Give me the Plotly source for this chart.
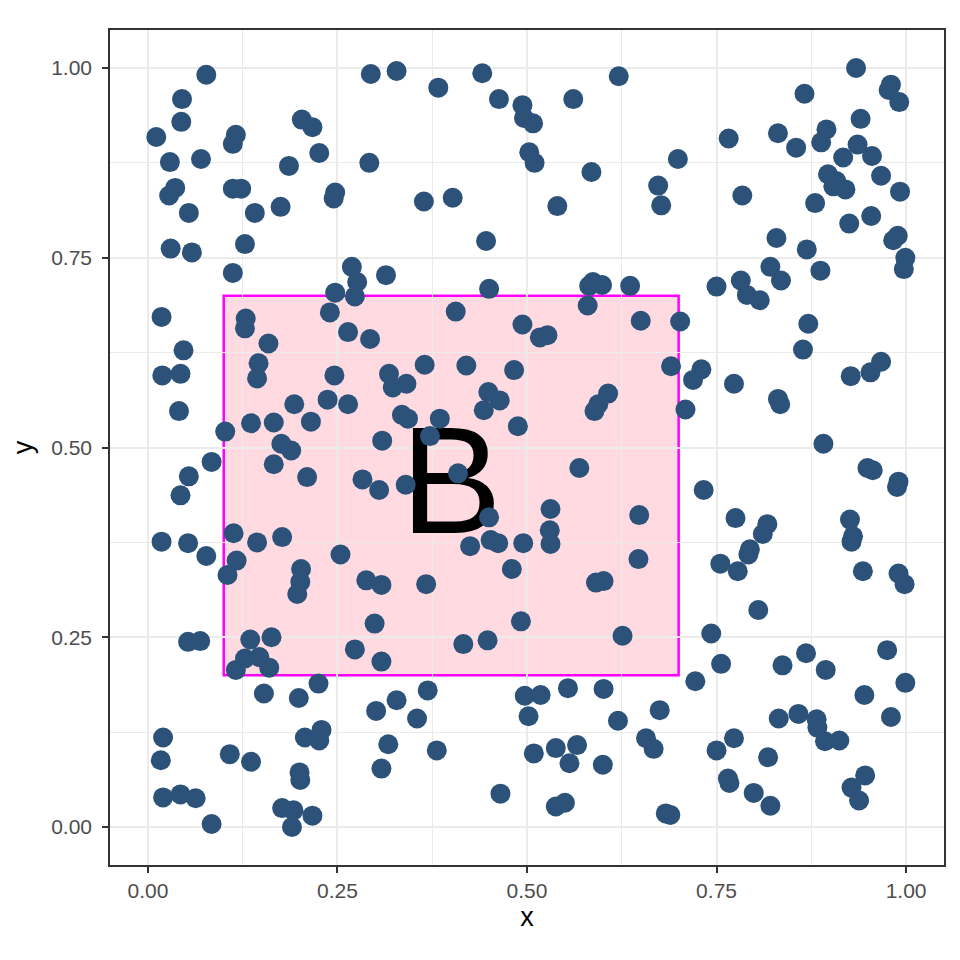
import plotly.graph_objects as go

# ---- data ----
x_vals = [
    # top-left region
    0.077, 0.294, 0.045, 0.044, 0.011, 0.116, 0.112, 0.203, 0.217, 0.226,
    0.029, 0.070, 0.186, 0.292, 0.036, 0.028, 0.112, 0.123, 0.247, 0.245,
    0.054, 0.141, 0.175, 0.128, 0.030, 0.058, 0.112, 0.269, 0.276, 0.314,
    0.247, 0.273,
    # top-middle region
    0.328, 0.383, 0.441, 0.463, 0.494, 0.496, 0.508, 0.561, 0.621, 0.503,
    0.510, 0.585, 0.673, 0.677, 0.364, 0.402, 0.540, 0.446, 0.450, 0.582,
    0.587, 0.599, 0.636, 0.580, 0.406,
    # top-right region
    0.934, 0.980, 0.977, 0.991, 0.866, 0.940, 0.895, 0.888, 0.831, 0.855,
    0.766, 0.699, 0.936, 0.917, 0.955, 0.897, 0.908, 0.904, 0.920, 0.967,
    0.992, 0.784, 0.880, 0.954, 0.925, 0.989, 0.983, 0.999, 0.997, 0.829,
    0.869, 0.887, 0.821, 0.835, 0.782, 0.790, 0.807, 0.750,
    # mid-left region
    0.018, 0.129, 0.128, 0.159, 0.240, 0.264, 0.293, 0.047, 0.019, 0.043,
    0.146, 0.144, 0.246, 0.318, 0.323, 0.041, 0.193, 0.237, 0.264, 0.102,
    0.136, 0.166, 0.215, 0.176, 0.189, 0.309, 0.084, 0.166, 0.210, 0.054,
    0.043, 0.283, 0.305, 0.018, 0.053, 0.077, 0.113, 0.144, 0.177, 0.117,
    0.105, 0.254, 0.202, 0.201, 0.288, 0.308,
    # mid-middle region
    0.494, 0.517, 0.527, 0.650, 0.690, 0.341, 0.365, 0.420, 0.483, 0.449,
    0.464, 0.443, 0.335, 0.343, 0.385, 0.488, 0.607, 0.594, 0.589, 0.372,
    0.409, 0.340, 0.569, 0.531, 0.530, 0.531, 0.450, 0.648, 0.425, 0.452,
    0.462, 0.495, 0.480, 0.647, 0.367, 0.591, 0.601,
    # mid-right region
    0.871, 0.864, 0.702, 0.730, 0.719, 0.773, 0.709, 0.831, 0.834, 0.927,
    0.953, 0.967, 0.891, 0.949, 0.956, 0.990, 0.988, 0.733, 0.775, 0.817,
    0.811, 0.794, 0.792, 0.755, 0.778, 0.926, 0.930, 0.928, 0.943, 0.990,
    0.998,
    # bottom-left region
    0.197, 0.299, 0.273, 0.308, 0.053, 0.069, 0.135, 0.163, 0.128, 0.147,
    0.160, 0.116, 0.225, 0.153, 0.199, 0.301, 0.020, 0.017, 0.108, 0.136,
    0.207, 0.229, 0.226, 0.200, 0.201, 0.308, 0.020, 0.043, 0.063, 0.084,
    0.177, 0.192, 0.190, 0.217,
    # bottom-middle region
    0.492, 0.416, 0.448, 0.626, 0.328, 0.369, 0.355, 0.497, 0.518, 0.502,
    0.554, 0.601, 0.620, 0.675, 0.317, 0.381, 0.509, 0.538, 0.566, 0.556,
    0.600, 0.657, 0.667, 0.465, 0.538, 0.550, 0.683, 0.689,
    # bottom-right region
    0.805, 0.743, 0.756, 0.722, 0.837, 0.868, 0.894, 0.975, 0.999, 0.945,
    0.980, 0.832, 0.858, 0.882, 0.883, 0.893, 0.912, 0.773, 0.750, 0.818,
    0.765, 0.767, 0.799, 0.821, 0.946, 0.928, 0.938,
]

y_vals = [
    # top-left region
    0.991, 0.992, 0.959, 0.929, 0.909, 0.912, 0.900, 0.932, 0.922, 0.888,
    0.876, 0.880, 0.871, 0.875, 0.842, 0.832, 0.841, 0.841, 0.836, 0.828,
    0.809, 0.809, 0.817, 0.768, 0.762, 0.757, 0.730, 0.738, 0.718, 0.727,
    0.704, 0.699,
    # top-middle region
    0.996, 0.974, 0.993, 0.959, 0.951, 0.934, 0.927, 0.959, 0.989, 0.889,
    0.875, 0.863, 0.845, 0.819, 0.824, 0.829, 0.818, 0.772, 0.709, 0.713,
    0.718, 0.714, 0.713, 0.687, 0.679,
    # top-right region
    1.000, 0.978, 0.971, 0.955, 0.966, 0.933, 0.919, 0.902, 0.914, 0.895,
    0.907, 0.880, 0.899, 0.882, 0.884, 0.860, 0.851, 0.844, 0.840, 0.858,
    0.837, 0.832, 0.822, 0.805, 0.795, 0.779, 0.773, 0.750, 0.735, 0.776,
    0.761, 0.733, 0.738, 0.720, 0.720, 0.701, 0.694, 0.712,
    # mid-left region
    0.672, 0.670, 0.657, 0.637, 0.678, 0.652, 0.643, 0.628, 0.595, 0.597,
    0.611, 0.591, 0.595, 0.597, 0.579, 0.548, 0.557, 0.563, 0.557, 0.521,
    0.532, 0.533, 0.534, 0.505, 0.496, 0.509, 0.481, 0.478, 0.461, 0.462,
    0.437, 0.458, 0.444, 0.376, 0.374, 0.357, 0.387, 0.375, 0.382, 0.351,
    0.332, 0.359, 0.340, 0.323, 0.325, 0.319,
    # mid-middle region
    0.662, 0.645, 0.648, 0.667, 0.607, 0.584, 0.609, 0.608, 0.602, 0.573,
    0.562, 0.549, 0.543, 0.538, 0.538, 0.528, 0.571, 0.557, 0.548, 0.515,
    0.466, 0.451, 0.473, 0.419, 0.391, 0.373, 0.408, 0.411, 0.370, 0.378,
    0.374, 0.374, 0.340, 0.353, 0.320, 0.322, 0.324,
    # mid-right region
    0.663, 0.629, 0.666, 0.603, 0.589, 0.584, 0.550, 0.564, 0.557, 0.594,
    0.599, 0.613, 0.505, 0.473, 0.470, 0.455, 0.448, 0.444, 0.407, 0.399,
    0.386, 0.366, 0.359, 0.347, 0.337, 0.405, 0.383, 0.376, 0.337, 0.334,
    0.320,
    # bottom-left region
    0.307, 0.268, 0.234, 0.218, 0.244, 0.245, 0.247, 0.250, 0.222, 0.224,
    0.210, 0.207, 0.189, 0.176, 0.170, 0.153, 0.118, 0.088, 0.096, 0.086,
    0.118, 0.128, 0.114, 0.072, 0.062, 0.077, 0.039, 0.043, 0.038, 0.004,
    0.025, 0.022, 0.000, 0.015,
    # bottom-middle region
    0.271, 0.241, 0.246, 0.252, 0.167, 0.180, 0.143, 0.173, 0.174, 0.146,
    0.183, 0.182, 0.140, 0.154, 0.109, 0.101, 0.097, 0.104, 0.108, 0.084,
    0.082, 0.117, 0.103, 0.044, 0.027, 0.032, 0.018, 0.016,
    # bottom-right region
    0.286, 0.255, 0.215, 0.192, 0.213, 0.229, 0.207, 0.233, 0.190, 0.174,
    0.145, 0.143, 0.149, 0.142, 0.131, 0.113, 0.114, 0.117, 0.101, 0.092,
    0.064, 0.058, 0.045, 0.028, 0.068, 0.052, 0.035,
]

rect_x = [0.1, 0.7]
rect_y = [0.2, 0.7]
label_text = ["B"]
label_x = [0.4]
label_y = [0.437]

tick_vals = [0.0, 0.25, 0.5, 0.75, 1.0]
tick_text = ["0.00", "0.25", "0.50", "0.75", "1.00"]
minor_vals = [0.125, 0.375, 0.625, 0.875]

POINT_COLOR = "rgb(44,82,122)"
GRID = "#EBEBEB"
FONT = "Liberation Sans, Arial, Helvetica, sans-serif"

fig = go.Figure()

# label drawn first so points sit on top of it
fig.add_trace(go.Scatter(
    x=label_x, y=label_y, mode="text", text=label_text,
    textposition="middle center",
    textfont=dict(size=152, color="black", family=FONT),
    hoverinfo="skip", showlegend=False,
))

fig.add_trace(go.Scatter(
    x=x_vals, y=y_vals, mode="markers",
    marker=dict(size=20, color=POINT_COLOR, line=dict(width=0)),
    showlegend=False,
))

fig.add_shape(
    type="rect", xref="x", yref="y",
    x0=rect_x[0], x1=rect_x[1], y0=rect_y[0], y1=rect_y[1],
    fillcolor="rgba(255,182,196,0.5)",
    line=dict(color="#FF00FF", width=2.5),
    layer="below",
)

axis_common = dict(
    tickmode="array", tickvals=tick_vals, ticktext=tick_text,
    range=[-0.05, 1.05],
    showgrid=True, gridcolor=GRID, gridwidth=2.4,
    minor=dict(tickmode="array", tickvals=minor_vals, showgrid=True,
               gridcolor=GRID, gridwidth=1.2, ticks=""),
    zeroline=False, automargin=False,
    showline=True, linecolor="#333333", linewidth=1.6, mirror=True,
    ticks="outside", ticklen=6, tickwidth=1.6, tickcolor="#333333",
    tickfont=dict(size=21, color="#4D4D4D", family=FONT),
)

fig.update_xaxes(**axis_common, ticklabelstandoff=0,
                 title=dict(text="x", font=dict(size=27, color="black", family=FONT), standoff=4))
fig.update_yaxes(**axis_common, ticklabelstandoff=6,
                 title=dict(text="y", font=dict(size=27, color="black", family=FONT), standoff=21))

# page body adds an 8px offset, so the figure is 952 px and margins compensate
fig.update_layout(
    width=952, height=952,
    margin=dict(l=102, r=16, t=22, b=95),
    plot_bgcolor="white", paper_bgcolor="white",
    font=dict(family=FONT),
)

fig.write_html("out.html")
